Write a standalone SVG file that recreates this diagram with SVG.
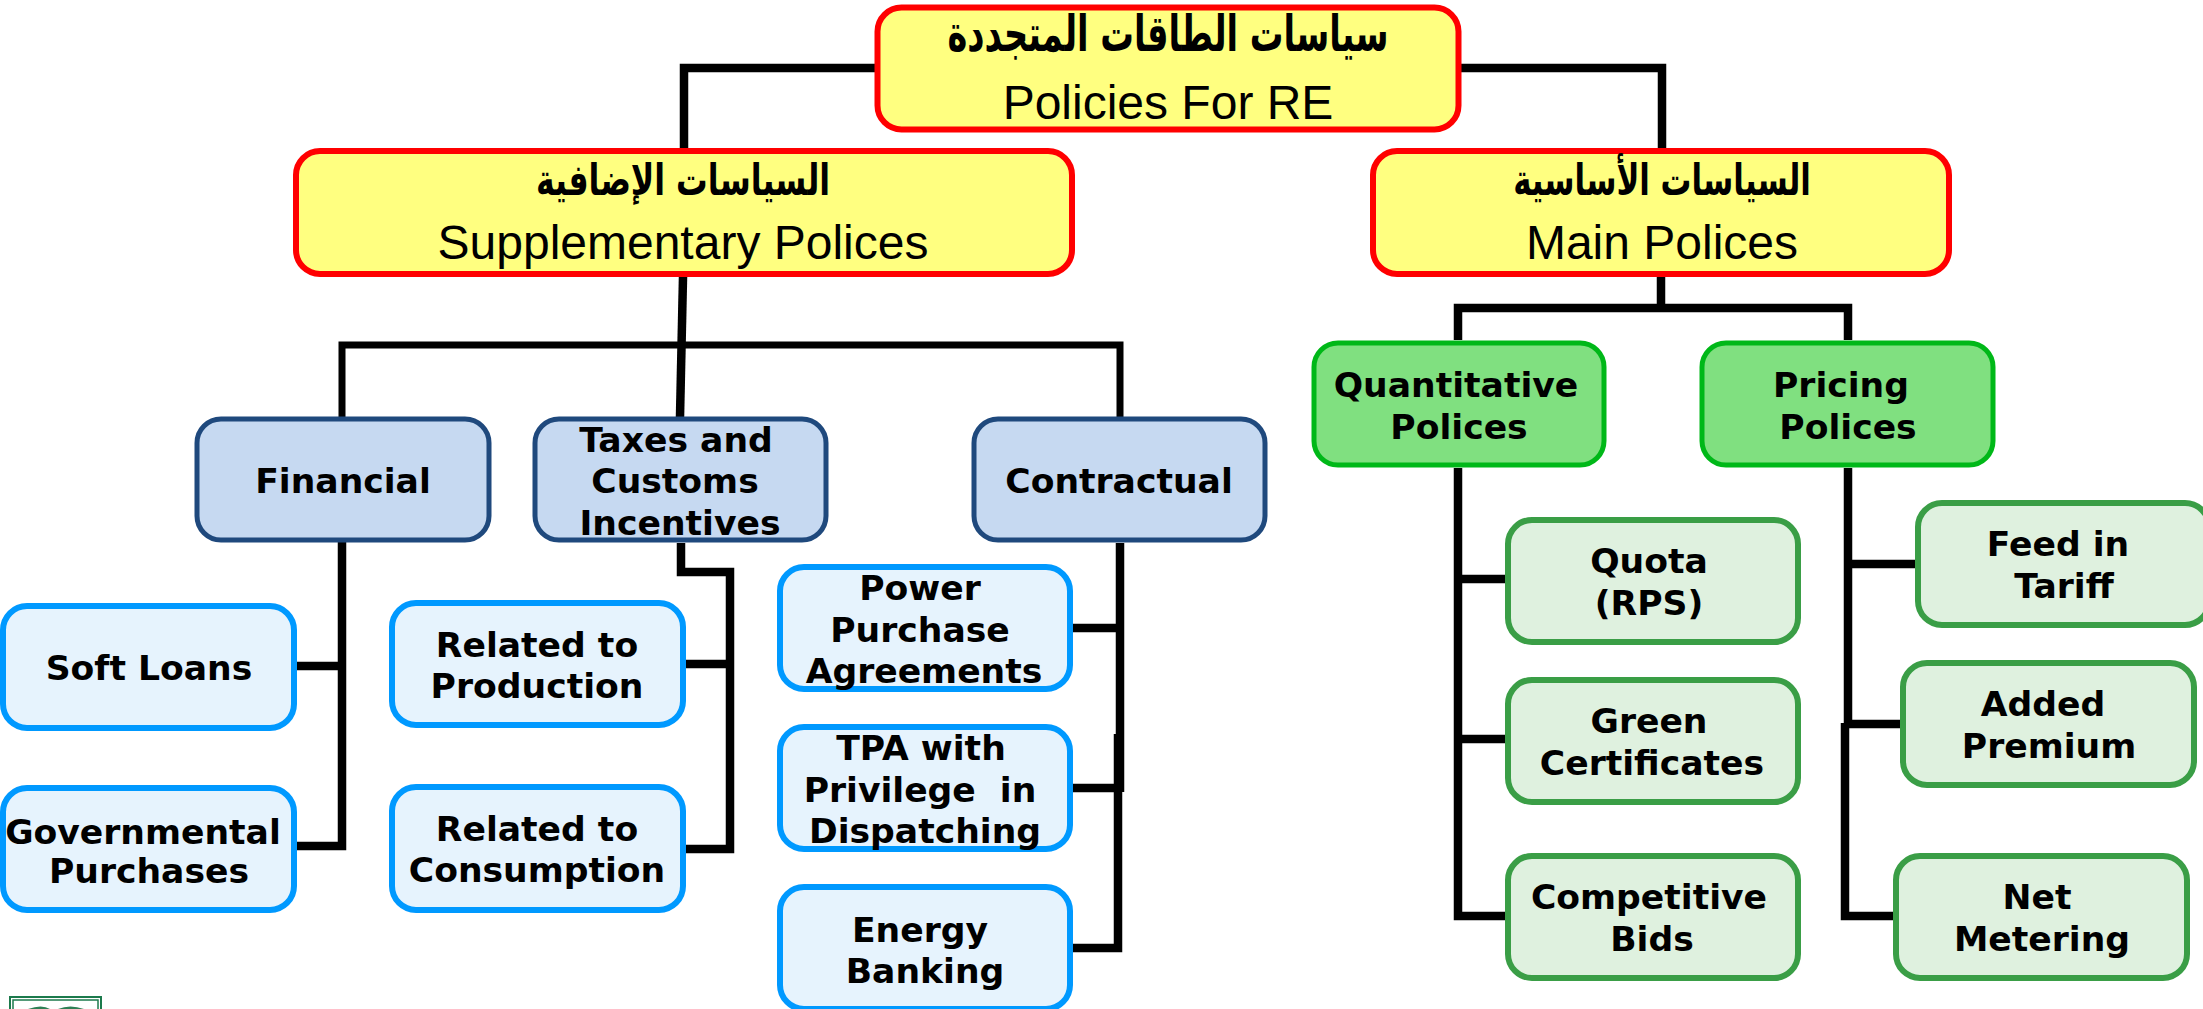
<svg xmlns="http://www.w3.org/2000/svg" width="2203" height="1009" viewBox="0 0 2203 1009">
<style>
.y{fill:#ffff80;stroke:#ff0000;stroke-width:6}
.b{fill:#c6d9f1;stroke:#1f497d;stroke-width:5}
.g{fill:#80e080;stroke:#00b818;stroke-width:5}
.l{fill:#e6f3fd;stroke:#0099ff;stroke-width:6}
.m{fill:#dff1df;stroke:#3a9e46;stroke-width:6}
.c{fill:none;stroke:#000;stroke-width:8.5}
.n{fill:none;stroke:#000;stroke-width:7}
.t{font-family:"DejaVu Sans",sans-serif;font-weight:700;font-size:34.6px;text-anchor:middle;fill:#000}
.e{font-family:"Liberation Sans",Arial,sans-serif;font-size:48px;text-anchor:middle;fill:#000}
.a{font-family:"DejaVu Sans",sans-serif;font-weight:700;font-size:38px;text-anchor:middle;fill:#000}
</style>
<g id="connectors">
<path class="c" d="M875 68H684V149M1461 68H1662V149"/>
<path class="c" d="M683 277L680 417"/>
<path class="n" d="M342 417V345H1120V417"/>
<path class="c" d="M1661 277V308M1458 340V308H1848V340"/>
<path class="c" d="M342 542V846H296M296 666H342"/>
<path class="c" d="M681 543V572H730V849H685M685 664H730"/>
<path class="c" d="M1120 543V792M1118 734V948H1071M1073 628H1120M1073 788H1120"/>
<path class="c" d="M1458 468V916H1506M1458 579H1506M1458 739H1506"/>
<path class="c" d="M1848 468V566M1845 723V916H1893M1848 564H1916M1845 724H1901M1848 560V724"/>
</g>
<g id="root"><rect class="y" x="877.5" y="7.5" width="581" height="122" rx="24"/><text class="a" transform="translate(1168 51) scale(.8 1.2)" style="font-size:42px">سياسات الطاقات المتجددة</text><text class="e" x="1168" y="119">Policies For RE</text></g>
<g id="supplementary"><rect class="y" x="296" y="151" width="776" height="123" rx="24"/><text class="a" transform="translate(683 195) scale(.83 1.15)">السياسات الإضافية</text><text class="e" x="683" y="259">Supplementary Polices</text></g>
<g id="main"><rect class="y" x="1373" y="151" width="576" height="123" rx="24"/><text class="a" transform="translate(1662 195) scale(.81 1.15)">السياسات الأساسية</text><text class="e" x="1662" y="259">Main Polices</text></g>
<g id="financial"><rect class="b" x="197" y="419" width="292" height="121" rx="24"/><text class="t" x="343" y="493">Financial</text></g>
<g id="taxes"><rect class="b" x="535" y="419" width="291" height="121" rx="24"/><text class="t" x="676" y="452">Taxes and</text><text class="t" x="675" y="493">Customs</text><text class="t" x="680" y="535">Incentives</text></g>
<g id="contractual"><rect class="b" x="974" y="419" width="291" height="121" rx="24"/><text class="t" x="1119" y="493">Contractual</text></g>
<g id="quantitative"><rect class="g" x="1314" y="343" width="290" height="122" rx="24"/><text class="t" x="1456" y="397">Quantitative</text><text class="t" x="1459" y="439">Polices</text></g>
<g id="pricing"><rect class="g" x="1702" y="343" width="291" height="122" rx="24"/><text class="t" x="1841" y="397">Pricing</text><text class="t" x="1848" y="439">Polices</text></g>
<g id="soft-loans"><rect class="l" x="3" y="606" width="291" height="122" rx="24"/><text class="t" x="149" y="680">Soft Loans</text></g>
<g id="governmental"><rect class="l" x="3" y="788" width="291" height="122" rx="24"/><text class="t" x="143" y="844">Governmental</text><text class="t" x="149" y="883">Purchases</text></g>
<g id="production"><rect class="l" x="392" y="603" width="291" height="122" rx="24"/><text class="t" x="537" y="657">Related to</text><text class="t" x="537" y="698">Production</text></g>
<g id="consumption"><rect class="l" x="392" y="787" width="291" height="123" rx="24"/><text class="t" x="537" y="841">Related to</text><text class="t" x="537" y="882">Consumption</text></g>
<g id="ppa"><rect class="l" x="780" y="567" width="290" height="122" rx="24"/><text class="t" x="920" y="600">Power</text><text class="t" x="920" y="642">Purchase</text><text class="t" x="924" y="683">Agreements</text></g>
<g id="tpa"><rect class="l" x="780" y="727" width="290" height="122" rx="24"/><text class="t" x="921" y="760">TPA with</text><text class="t" x="920" y="802" xml:space="preserve">Privilege  in</text><text class="t" x="925" y="843">Dispatching</text></g>
<g id="banking"><rect class="l" x="780" y="887" width="290" height="122" rx="24"/><text class="t" x="920" y="942">Energy</text><text class="t" x="925" y="983">Banking</text></g>
<g id="quota"><rect class="m" x="1508" y="520" width="290" height="122" rx="24"/><text class="t" x="1649" y="573">Quota</text><text class="t" x="1649" y="615">(RPS)</text></g>
<g id="green"><rect class="m" x="1508" y="680" width="290" height="122" rx="24"/><text class="t" x="1649" y="733">Green</text><text class="t" x="1652" y="775">Certificates</text></g>
<g id="competitive"><rect class="m" x="1508" y="856" width="290" height="122" rx="24"/><text class="t" x="1649" y="909">Competitive</text><text class="t" x="1652" y="951">Bids</text></g>
<g id="feed"><rect class="m" x="1918" y="503" width="291" height="122" rx="24"/><text class="t" x="2058" y="556">Feed in</text><text class="t" x="2064" y="598">Tariff</text></g>
<g id="premium"><rect class="m" x="1903" y="663" width="291" height="122" rx="24"/><text class="t" x="2043" y="716">Added</text><text class="t" x="2049" y="758">Premium</text></g>
<g id="net"><rect class="m" x="1896" y="856" width="291" height="122" rx="24"/><text class="t" x="2037" y="909">Net</text><text class="t" x="2042" y="951">Metering</text></g>
<g id="logo"><rect x="10" y="997" width="91" height="20" fill="#fff" stroke="#1c7a4c" stroke-width="2"/><rect x="13" y="1000" width="85" height="20" fill="none" stroke="#1c7a4c" stroke-width="1.5"/><path d="M28 1009Q42 1004 50 1009M58 1009Q70 1004 84 1009" fill="#2f7f55"/></g>
</svg>
